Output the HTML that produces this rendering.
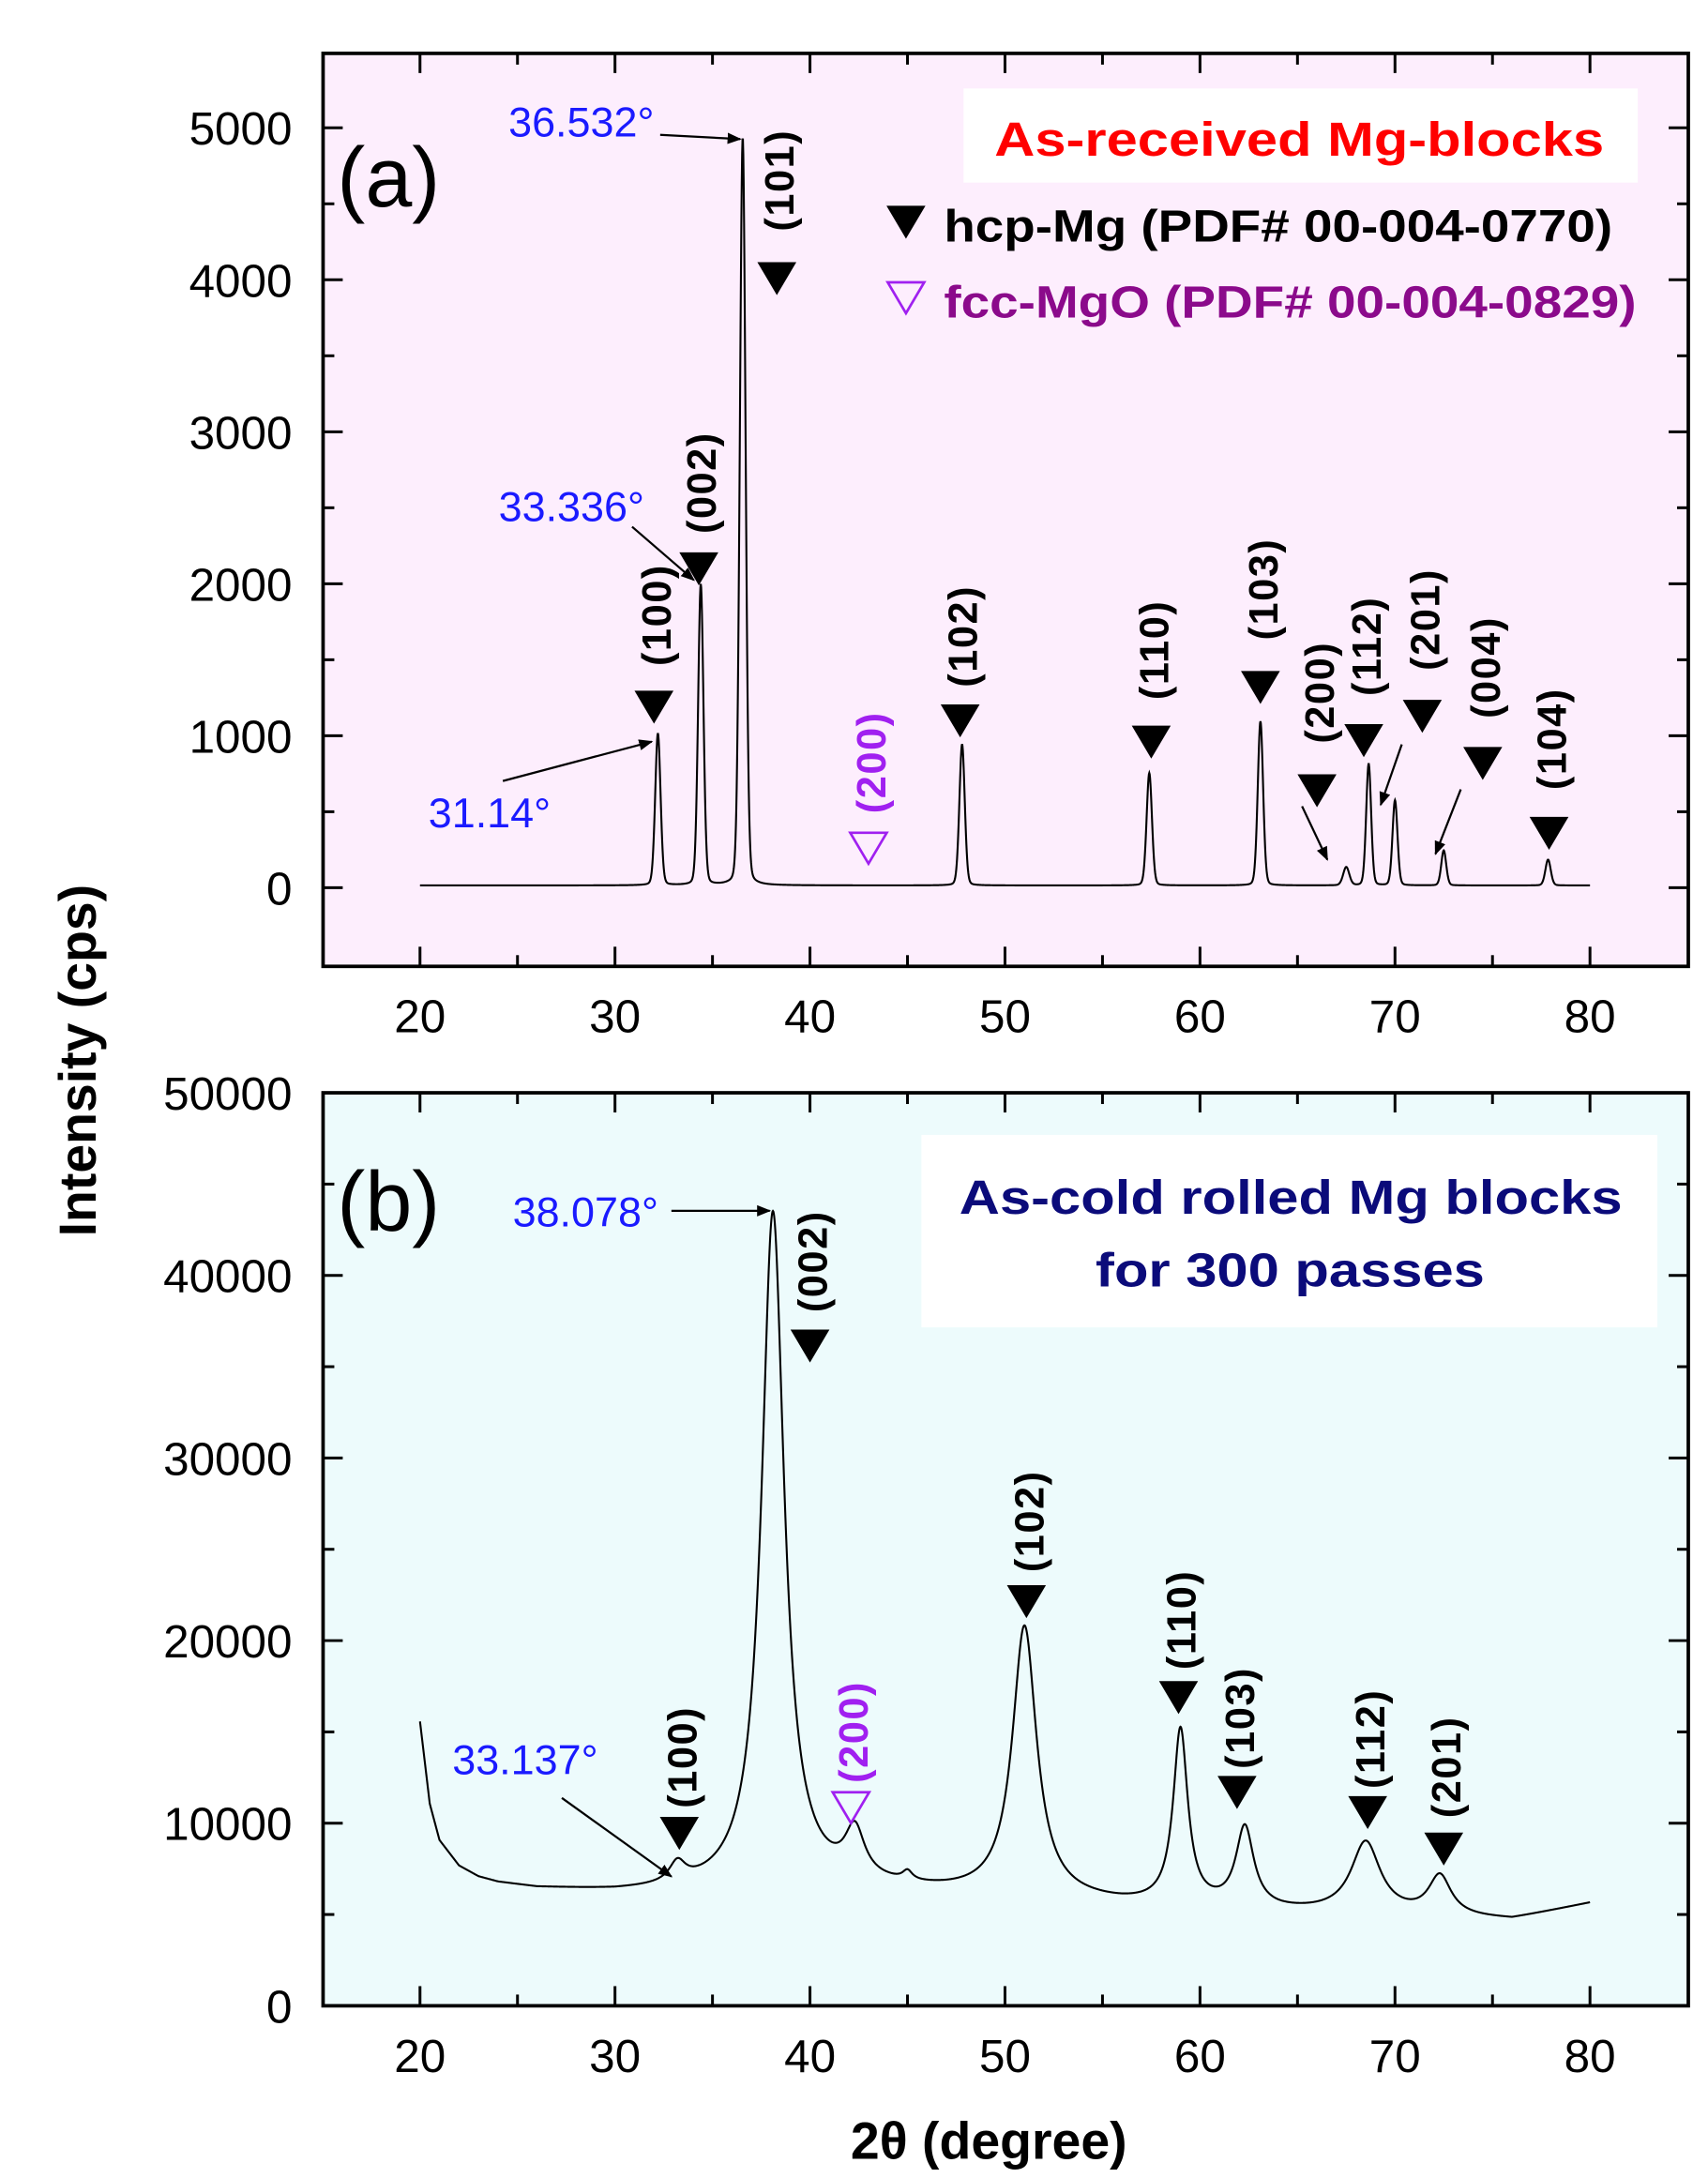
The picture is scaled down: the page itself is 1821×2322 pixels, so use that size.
<!DOCTYPE html>
<html><head><meta charset="utf-8"><style>
html,body{margin:0;padding:0;background:#fff}
svg{display:block}
text{font-family:"Liberation Sans",Arial,sans-serif}
</style></head><body>
<svg id="chart" width="1821" height="2322" viewBox="0 0 1216 1550.6" xmlns="http://www.w3.org/2000/svg">
<defs><marker id="ah" markerWidth="10" markerHeight="8" refX="9" refY="4" orient="auto" markerUnits="userSpaceOnUse"><path d="M0,0 L10,4 L0,8 z" fill="#000"/></marker></defs>
</svg>
<script>
// ---- data ----
const xTicks=[20,30,40,50,60,70,80];
const aYTicks=[0,1000,2000,3000,4000,5000];
const bYTicks=[0,10000,20000,30000,40000,50000];
const aPeakPos=[32.2,34.4,36.55,47.8,57.4,63.1,67.5,68.65,70.0,72.5,77.85];
const aPeakHeight=[1000,1980,4920,930,740,1080,120,800,560,230,170];
const aPeakWidth=[0.14,0.14,0.15,0.14,0.14,0.14,0.16,0.13,0.13,0.13,0.14];
const aBase=15;
const bBgX=[20,20.5,21,22,23,24,26,30,33,36,40,44,47,52,56,60,64,68,72,76,80];
const bBgY=[15500,11000,9000,7600,7000,6700,6400,6200,6200,6300,6500,6300,6100,5800,5500,5300,5100,5000,4800,4700,5600];
const bPeakPos=[33.2,38.1,42.3,45.0,51.0,59.0,62.3,68.5,72.3];
const bPeakHeight=[1100,37000,2600,500,14800,9600,4400,3900,2200];
const bPeakWidth=[0.5,0.7,0.6,0.3,0.75,0.45,0.55,0.9,0.7];
const aLabels=["(100)","(002)","(101)","(200)","(102)","(110)","(103)","(200)","(112)","(201)","(004)","(104)"];
const aMarkX=[32.0,34.3,38.3,43.0,47.7,57.5,63.1,66.0,68.4,71.4,74.5,77.9];
const aMarkY=[1190,2100,4010,260,1100,960,1320,640,970,1130,820,360];
const aLabelY=[1730,2600,4590,760,1590,1500,1900,1220,1525,1700,1385,915];
const aMarkOpen=[0,0,0,1,0,0,0,0,0,0,0,0];
const bLabels=["(100)","(002)","(200)","(102)","(110)","(103)","(112)","(201)"];
const bMarkX=[33.3,40.0,42.1,51.1,58.9,61.9,68.6,72.5];
const bMarkY=[9460,36150,10850,22150,16900,11700,10600,8600];
const bLabelY=[13080,40230,14460,26000,20600,15230,14080,12540];
const bMarkOpen=[0,0,1,0,0,0,0,0];

const svg=document.getElementById('chart');
const NS='http://www.w3.org/2000/svg';
function mk(tag,attrs,parent){const e=document.createElementNS(NS,tag);for(const k in attrs)e.setAttribute(k,attrs[k]);(parent||svg).appendChild(e);return e;}

const X0=230,X1=1202;
const xs=v=>299+(v-20)*(1132-299)/60;
const ya=v=>632-v*(632-91)/5000;
const yb=v=>1428-v*(1428-778)/50000;

function panel(name,top,bottom,bg,ys,yTicks,minorStep){
  const g=mk('g',{});
  
  
  const r=mk('rect',{x:X0,y:top,width:X1-X0,height:bottom-top,fill:bg,stroke:'none'},g);
  
  
  for(let v=20;v<=80;v+=5){
    const maj=v%10===0,L=maj?14:8,x=xs(v);
    mk('line',{x1:x,y1:bottom,x2:x,y2:bottom-L,stroke:'#000','stroke-width':2},g);
    mk('line',{x1:x,y1:top,x2:x,y2:top+L,stroke:'#000','stroke-width':2},g);
  }
  xTicks.forEach(v=>{const t=mk('text',{x:xs(v),y:bottom+47,'font-size':33,'text-anchor':'middle',fill:'#000'},g);t.textContent=v;
    
    });
  const ymax=yTicks[yTicks.length-1];
  for(let v=0;v<=ymax;v+=minorStep){
    const maj=v%(minorStep*2)===0,L=maj?14:8,y=ys(v);
    mk('line',{x1:X0,y1:y,x2:X0+L,y2:y,stroke:'#000','stroke-width':2},g);
    mk('line',{x1:X1,y1:y,x2:X1-L,y2:y,stroke:'#000','stroke-width':2},g);
  }
  yTicks.forEach(v=>{const t=mk('text',{x:X0-22,y:ys(v)+12,'font-size':33,'text-anchor':'end',fill:'#000'},g);t.textContent=v;
    
    });
  const f=mk('rect',{x:X0,y:top,width:X1-X0,height:bottom-top,fill:'none',stroke:'#000','stroke-width':2.5},g);
  
  
  return g;
}
const ga=panel('panel-a',38,688,'#fdeefd',ya,aYTicks,500);
const gb=panel('panel-b',778,1428,'#edfbfc',yb,bYTicks,5000);

function curveA(x){let s=aBase;for(let i=0;i<aPeakPos.length;i++){const d=(x-aPeakPos[i])/aPeakWidth[i];s+=aPeakHeight[i]*(0.85*Math.exp(-0.5*d*d)+0.15/(1+d*d));}return s;}
function interpBg(x){for(let i=0;i<bBgX.length-1;i++){if(x<=bBgX[i+1]){const t=(x-bBgX[i])/(bBgX[i+1]-bBgX[i]);return bBgY[i]+t*(bBgY[i+1]-bBgY[i]);}}return bBgY[bBgY.length-1];}
function curveB(x){let s=interpBg(x);for(let i=0;i<bPeakPos.length;i++){const d=(x-bPeakPos[i])/bPeakWidth[i];s+=bPeakHeight[i]/(1+d*d);}return s;}
let pa='',pb='';
for(let x=20;x<=80.001;x+=0.02){pa+=(pa?'L':'M')+xs(x).toFixed(2)+','+ya(curveA(x)).toFixed(2);pb+=(pb?'L':'M')+xs(x).toFixed(2)+','+yb(curveB(x)).toFixed(2);}
const ca=mk('path',{d:pa,fill:'none',stroke:'#000','stroke-width':1.4},ga);


const cb=mk('path',{d:pb,fill:'none',stroke:'#000','stroke-width':1.4},gb);



function tri(g,x,y,open,name){
  const s=13,h=11;
  const p=mk('path',{d:`M${x-s},${y-h} L${x+s},${y-h} L${x},${y+h} Z`,fill:open?'none':'#000',stroke:open?'#a020f0':'#000','stroke-width':open?1.8:1},g);
  
  
}
function vlabel(g,x,y,txt,color,name){
  const t=mk('text',{x:0,y:0,'font-size':29,'font-weight':'bold','text-anchor':'middle','letter-spacing':1,fill:color,transform:`translate(${x+12},${y-7}) rotate(-90)`},g);
  t.textContent=txt;
  
  
}
aLabels.forEach((l,i)=>{const x=xs(aMarkX[i]);tri(ga,x,ya(aMarkY[i]),aMarkOpen[i],'peak-marker-a');
  vlabel(ga,x,ya(aLabelY[i]),l,aMarkOpen[i]?'#a020f0':'#000','peak-label-a');});
bLabels.forEach((l,i)=>{const x=xs(bMarkX[i]);tri(gb,x,yb(bMarkY[i]),bMarkOpen[i],'peak-marker-b');
  vlabel(gb,x,yb(bLabelY[i]),l,bMarkOpen[i]?'#a020f0':'#000','peak-label-b');});

function arrow(g,pts,name){const a=mk('polyline',{points:pts,fill:'none',stroke:'#000','stroke-width':1.5,'marker-end':'url(#ah)'},g);
  
  }
arrow(ga,'927,574 945,612','arrow-200');
arrow(ga,'998,530 983,573','arrow-201');
arrow(ga,'1040,562 1022,608','arrow-004');
arrow(ga,'470,96 527,99','arrow-36532');
arrow(ga,'450,375 494,413','arrow-33336');
arrow(ga,'358,556 464,528','arrow-3114');
arrow(gb,'478,862 548,862','arrow-38078');
arrow(gb,'400,1280 478,1336','arrow-33137');

function txt(g,x,y,s,size,color,weight,anchor,name,tl){const a={x:x,y:y,'font-size':size,fill:color,'font-weight':weight||'normal','text-anchor':anchor||'start'};if(tl){a.textLength=tl;a.lengthAdjust='spacingAndGlyphs';}
  const t=mk('text',a,g);t.textContent=s;
  
  return t;}
txt(ga,362,97,'36.532°',30,'#1a1aff','normal','start','annotation-36532');
txt(ga,355,371,'33.336°',30,'#1a1aff','normal','start','annotation-33336');
txt(ga,305,589,'31.14°',30,'#1a1aff','normal','start','annotation-3114');
txt(gb,365,873,'38.078°',30,'#1a1aff','normal','start','annotation-38078');
txt(gb,322,1263,'33.137°',30,'#1a1aff','normal','start','annotation-33137');
txt(ga,240,147,'(a)',60,'#000','normal','start','panel-a-label');
txt(gb,240,876,'(b)',60,'#000','normal','start','panel-b-label');

const la=mk('rect',{x:686,y:63,width:480,height:67,fill:'#fff'},ga);


txt(ga,708,111,'As-received Mg-blocks',34,'#ff0000','bold','start','legend-a-title',434);
tri(ga,645,158,0,'legend-hcp-marker');
txt(ga,672,172,'hcp-Mg (PDF# 00-004-0770)',32,'#000','bold','start','legend-hcp',476);
tri(ga,645,212,1,'legend-mgo-marker');
txt(ga,672,226,'fcc-MgO (PDF# 00-004-0829)',32,'#8b0a8b','bold','start','legend-mgo',493);
const lb=mk('rect',{x:656,y:808,width:524,height:137,fill:'#fff'},gb);


txt(gb,683,864,'As-cold rolled Mg blocks',34,'#0b0b7a','bold','start','legend-b-line1',472);
txt(gb,780,916,'for 300 passes',34,'#0b0b7a','bold','start','legend-b-line2',277);

const yt=mk('text',{x:0,y:0,'font-size':37,'font-weight':'bold','text-anchor':'middle',fill:'#000',transform:'translate(68,755) rotate(-90)'});
yt.textContent='Intensity (cps)';


const xt=mk('text',{x:704,y:1537,'font-size':37,'font-weight':'bold','text-anchor':'middle',fill:'#000'});
xt.textContent='2θ (degree)';


</script>
</body></html>
